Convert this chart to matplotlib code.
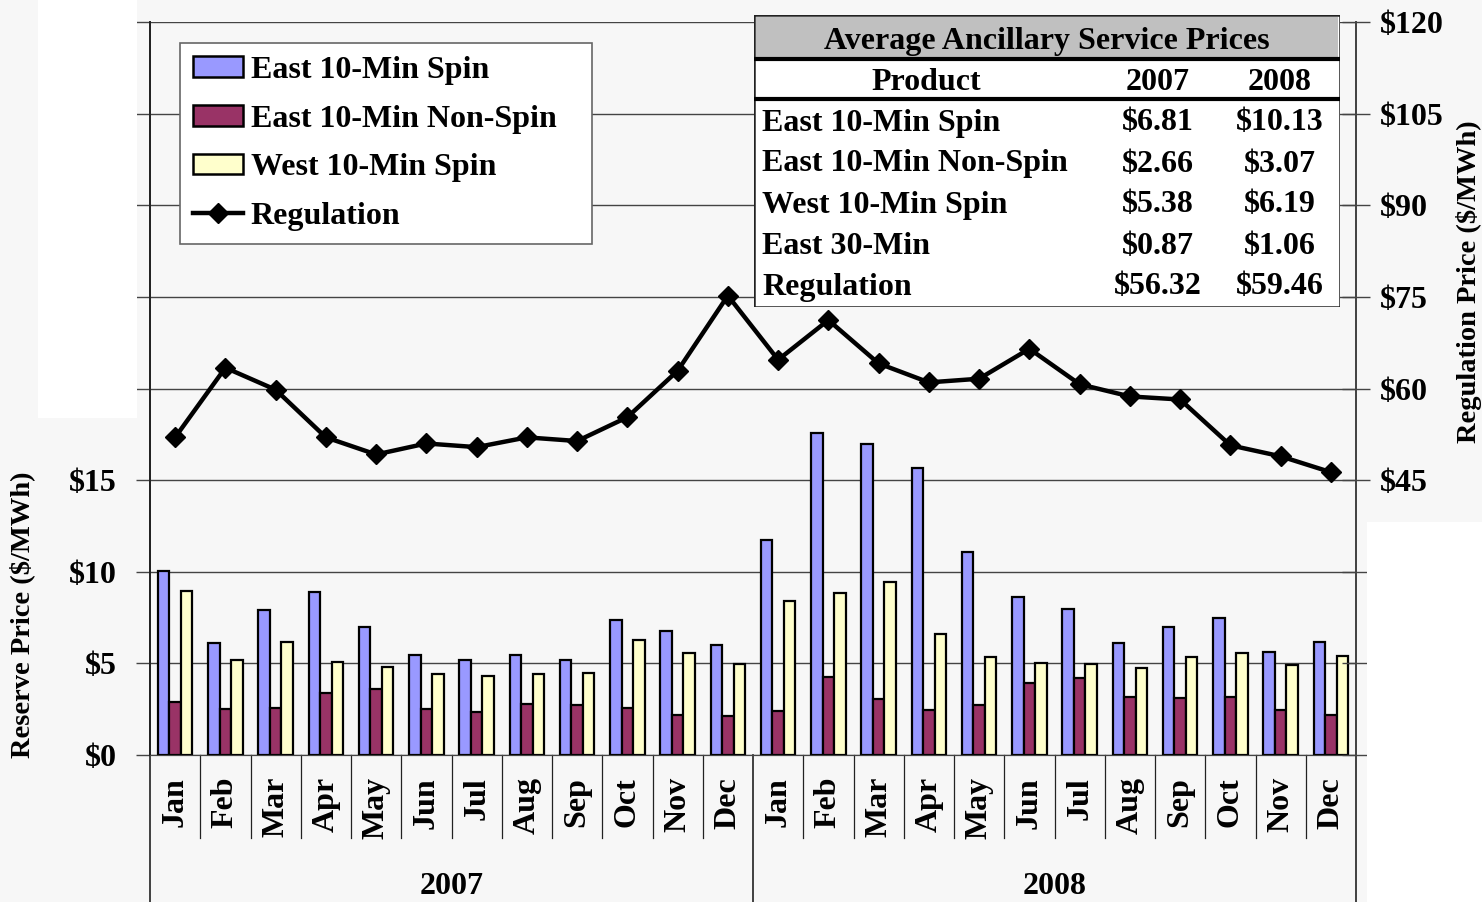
import numpy as np
import matplotlib
matplotlib.use("Agg")
import matplotlib.pyplot as plt
from matplotlib.patches import Patch, Rectangle
from matplotlib.lines import Line2D

plt.rcParams['font.family'] = ['Liberation Serif', 'DejaVu Serif']
plt.rcParams['font.weight'] = 'bold'

months = ["Jan", "Feb", "Mar", "Apr", "May", "Jun",
          "Jul", "Aug", "Sep", "Oct", "Nov", "Dec"]
years = ["2007", "2008"]

east_spin = [10.05, 6.09, 7.93, 8.91, 7.01, 5.43, 5.16, 5.43, 5.16, 7.39, 6.74, 6.03,
             11.74, 17.55, 16.96, 15.65, 11.09, 8.64, 7.99, 6.09, 6.96, 7.50, 5.60, 6.14]
east_nonspin = [2.88, 2.50, 2.55, 3.37, 3.59, 2.50, 2.34, 2.77, 2.72, 2.55, 2.17, 2.12,
                2.39, 4.24, 3.04, 2.45, 2.72, 3.91, 4.18, 3.15, 3.10, 3.15, 2.45, 2.17]
west_spin = [8.97, 5.16, 6.14, 5.05, 4.78, 4.40, 4.29, 4.40, 4.46, 6.25, 5.54, 4.95,
             8.42, 8.86, 9.46, 6.63, 5.33, 5.00, 4.95, 4.73, 5.33, 5.54, 4.89, 5.38]
regulation = [52.0, 63.4, 59.8, 52.0, 49.2, 51.0, 50.4, 52.0, 51.4, 55.3, 62.9, 75.2,
              64.7, 71.2, 64.1, 61.0, 61.6, 66.5, 60.7, 58.7, 58.2, 50.7, 48.9, 46.3]

products = ["East 10-Min Spin", "East 10-Min Non-Spin", "West 10-Min Spin",
            "East 30-Min", "Regulation"]
avg_2007 = ["$6.81", "$2.66", "$5.38", "$0.87", "$56.32"]
avg_2008 = ["$10.13", "$3.07", "$6.19", "$1.06", "$59.46"]

BG = "#f7f7f7"
FS = 23
W, H = 1482, 902
fig = plt.figure(figsize=(W / 100, H / 100), dpi=100, facecolor=BG)

# white blank patches of the original
fig.patches.append(Rectangle((38 / W, 1 - 418 / H), 99 / W, 418 / H,
                             transform=fig.transFigure, facecolor="white",
                             edgecolor="none", zorder=0))
fig.patches.append(Rectangle((1367 / W, 0), (W - 1367) / W, (902 - 522) / H,
                             transform=fig.transFigure, facecolor="white",
                             edgecolor="none", zorder=0))

ax = fig.add_axes([150 / W, 1 - 755 / H, (1356 - 150) / W, (755 - 22) / H])
ax.set_facecolor("none")
ax2 = ax.twinx()

n = len(east_spin)
x = np.arange(n)
bw = 0.228
kw = dict(width=bw, edgecolor="black", linewidth=1.6, zorder=3)
ax.bar(x - bw, east_spin, color="#9999ff", **kw)
ax.bar(x, east_nonspin, color="#993366", **kw)
ax.bar(x + bw, west_spin, color="#ffffcc", **kw)

ax2.plot(x, regulation, color="black", lw=3.2, marker="D", markersize=10, zorder=4)

ax.set_xlim(-0.5, n - 0.5)
ax.set_ylim(0, 40)
ax2.set_ylim(0, 120)

left_ticks = np.arange(0, 41, 5)
ax.set_yticks(left_ticks)
ax.set_yticklabels([f"${v}" if v <= 15 else "" for v in left_ticks], fontsize=FS)
right_ticks = np.arange(0, 121, 15)
ax2.set_yticks(right_ticks)
ax2.set_yticklabels([f"${v}" if v >= 45 else "" for v in right_ticks], fontsize=FS)

ax.yaxis.grid(True, color="#444444", lw=1.0, zorder=0)
ax.set_axisbelow(True)
ax.tick_params(axis="y", direction="out", length=10, width=1, color="#444444", pad=14)
ax2.tick_params(axis="y", direction="inout", length=20, width=1, color="#444444", pad=7)
ax.set_xticks([])

for a in (ax, ax2):
    a.spines["top"].set_visible(False)
    a.spines["bottom"].set_color("#444444")
    a.spines["left"].set_color("#222222")
    a.spines["right"].set_color("#444444")
    a.spines["left"].set_linewidth(1.3)
    a.spines["right"].set_linewidth(1.3)

# category axis: separators and labels below
tr = ax.get_xaxis_transform()
for i in range(n + 1):
    bottom = -0.2 if i % 12 == 0 else -0.113
    ax.plot([i - 0.5, i - 0.5], [0, bottom], transform=tr, color="#222222",
            lw=1.2 if i % 12 == 0 else 0.9, clip_on=False)
for i in range(n):
    ax.text(i, -0.03, months[i % 12], transform=tr, rotation=90, ha="center",
            va="top", fontsize=FS)
for k, yr in enumerate(years):
    ax.text(k * 12 + 5.5, -0.179, yr, transform=tr, ha="center", va="center",
            fontsize=FS)

fig.text(22 / W, 1 - 615 / H, "Reserve Price ($/MWh)", rotation=90,
         ha="center", va="center", fontsize=20.5)
fig.text(1469 / W, 1 - 282 / H, "Regulation Price ($/MWh)", rotation=90,
         ha="center", va="center", fontsize=20.5)

handles = [Patch(facecolor="#9999ff", edgecolor="black", lw=1.8),
           Patch(facecolor="#993366", edgecolor="black", lw=1.8),
           Patch(facecolor="#ffffcc", edgecolor="black", lw=1.8),
           Line2D([], [], color="black", lw=3.2, marker="D", markersize=10)]
labels = ["East 10-Min Spin", "East 10-Min Non-Spin", "West 10-Min Spin", "Regulation"]
leg = ax2.legend(handles, labels, loc="upper left", mode="expand",
                 bbox_to_anchor=(180 / W, 1 - 236 / H, 412 / W, 193 / H),
                 bbox_transform=fig.transFigure,
                 fontsize=FS, fancybox=False, framealpha=1, edgecolor="#666666",
                 handlelength=1.56, handleheight=0.62, handletextpad=0.25,
                 labelspacing=0.62, borderpad=0.4, borderaxespad=0)
leg.get_frame().set_linewidth(1.2)
leg.set_zorder(10)

# summary table
tab = fig.add_axes([754 / W, 1 - 307 / H, (1340 - 754) / W, (307 - 15) / H])
tab.set_xlim(754, 1340)
tab.set_ylim(307, 15)
tab.axis("off")
tab.add_patch(Rectangle((754, 15), 586, 292, facecolor="white", edgecolor="#222222",
                        lw=1.8, zorder=1))
tab.add_patch(Rectangle((756, 17), 582, 41, facecolor="#c0c0c0", edgecolor="none",
                        zorder=2))
tab.plot([756, 1338], [59, 59], color="black", lw=3, zorder=3)
tab.plot([756, 1338], [99, 99], color="black", lw=3, zorder=3)
tab.text(1047, 41, "Average Ancillary Service Prices", ha="center", va="center",
         fontsize=FS, zorder=4)
tab.text(926, 82, "Product", ha="center", va="center", fontsize=FS, zorder=4)
tab.text(1158, 82, years[0], ha="center", va="center", fontsize=FS, zorder=4)
tab.text(1280, 82, years[1], ha="center", va="center", fontsize=FS, zorder=4)
for r, (p, a, b) in enumerate(zip(products, avg_2007, avg_2008)):
    yy = 123 + r * 41
    tab.text(762, yy, p, ha="left", va="center", fontsize=FS, zorder=4)
    tab.text(1158, yy, a, ha="center", va="center", fontsize=FS, zorder=4)
    tab.text(1280, yy, b, ha="center", va="center", fontsize=FS, zorder=4)

fig.savefig("out.png", dpi=100, facecolor=BG)
